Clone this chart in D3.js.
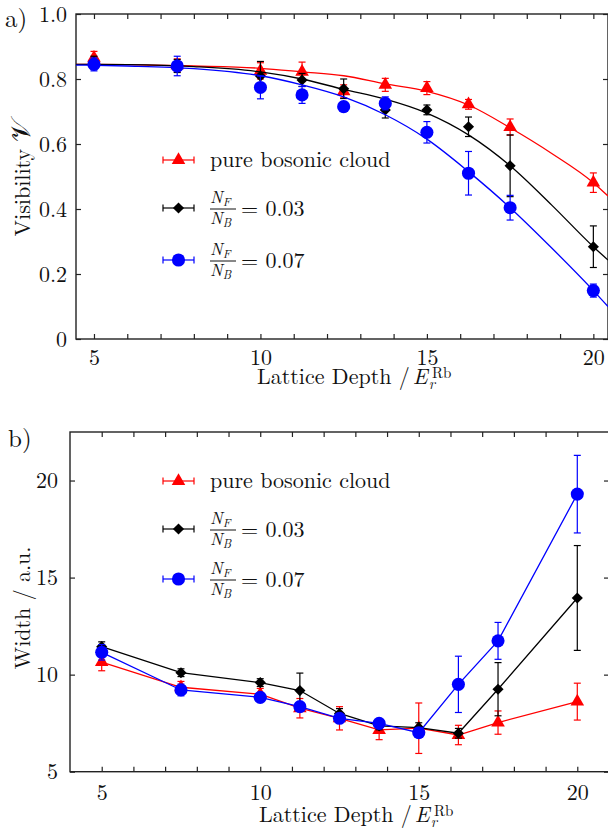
<!DOCTYPE html>
<html>
<head>
<meta charset="utf-8">
<script src="https://cdn.jsdelivr.net/npm/d3@7"></script>
<style>
  body { margin: 0; background: #fff; }
</style>
</head>
<body>
<svg width="608" height="833"></svg>
<script>
// lattice depths (E_r^Rb)
var depth = [5, 7.5, 10, 11.25, 12.5, 13.75, 15, 16.25, 17.5, 20];

// panel a) visibility
var visBoson    = [0.865, 0.842, 0.825, 0.822, 0.762, 0.782, 0.772, 0.722, 0.652, 0.481];
var visBosonErr = [0.02, 0.02, 0.025, 0.03, 0.02, 0.02, 0.02, 0.015, 0.025, 0.03];
var visF03      = [0.85, 0.84, 0.809, 0.797, 0.77, 0.705, 0.705, 0.653, 0.533, 0.284];
var visF03Err   = [0.02, 0.02, 0.045, 0.02, 0.03, 0.025, 0.015, 0.03, 0.095, 0.064];
var visF07      = [0.845, 0.84, 0.774, 0.751, 0.715, 0.725, 0.636, 0.51, 0.404, 0.149];
var visF07Err   = [0.02, 0.03, 0.035, 0.026, 0.015, 0.02, 0.033, 0.067, 0.038, 0.02];

// fit curves
var fitDepth = [4.46, 6, 8, 10, 11.25, 12.5, 13.75, 15, 16.25, 17.5, 18.75, 20, 20.44];
var fitBoson = [0.845, 0.844, 0.84, 0.833, 0.822, 0.81, 0.785, 0.762, 0.72, 0.65, 0.571, 0.481, 0.44];
var fitF03   = [0.845, 0.844, 0.838, 0.822, 0.8, 0.768, 0.738, 0.695, 0.628, 0.533, 0.412, 0.284, 0.243];
var fitF07   = [0.843, 0.84, 0.832, 0.81, 0.782, 0.745, 0.69, 0.615, 0.515, 0.404, 0.28, 0.149, 0.10];

// panel b) width
var widthBoson    = [10.65, 9.35, 8.99, 8.27, 7.75, 7.15, 7.24, 6.89, 7.53, 8.61];
var widthBosonErr = [0.45, 0.3, 0.3, 0.5, 0.6, 0.5, 1.3, 0.5, 0.6, 0.95];
var widthF03      = [11.44, 10.1, 9.59, 9.18, 8.0, 7.36, 7.27, 6.98, 9.25, 13.95];
var widthF03Err   = [0.25, 0.2, 0.2, 0.9, 0.25, 0.2, 0.25, 0.25, 1.37, 2.7];
var widthF07      = [11.15, 9.21, 8.83, 8.35, 7.75, 7.49, 7.01, 9.5, 11.74, 19.3];
var widthF07Err   = [0.4, 0.3, 0.2, 0.2, 0.2, 0.2, 0.2, 1.45, 0.95, 2.0];

var visTicks = [0, 0.2, 0.4, 0.6, 0.8, 1.0];
var widthTicks = [5, 10, 15, 20];
var seriesNames = ["pure bosonic cloud", "0.03", "0.07"];

var FONT = "'Latin Modern Roman', 'Liberation Serif', serif";
var colors = ["#ff0000", "#000000", "#0000ff"];
var symbols = [d3.symbolTriangle, d3.symbolSquare, d3.symbolCircle];
var symSize = [80, 62, 135];
var symRot = [0, 45, 0];

var svg = d3.select("svg");

// text helper, font set through style so it sticks
function txt(sel, x, y, size) {
  return sel.append("text").attr("x", x).attr("y", y)
    .style("font-family", FONT).style("font-size", size + "px").attr("fill", "#111");
}

function panel(opt) {
  var x = d3.scaleLinear().domain(opt.xdom).range([opt.left, opt.right]);
  var y = d3.scaleLinear().domain(opt.ydom).range([opt.bottom, opt.top]);
  var g = svg.append("g");
  var minor = d3.range(5, 21);

  var fmtX = function(d) { return d % 5 === 0 ? d : ""; };
  g.append("g").attr("transform", "translate(0," + opt.bottom + ")")
    .call(d3.axisBottom(x).tickValues(minor).tickSizeInner(-5).tickSizeOuter(0).tickPadding(opt.xpad).tickFormat(fmtX));
  g.append("g").attr("transform", "translate(0," + opt.top + ")")
    .call(d3.axisTop(x).tickValues(minor).tickSizeInner(-5).tickSizeOuter(0).tickFormat(""));
  g.append("g").attr("transform", "translate(" + opt.left + ",0)")
    .call(d3.axisLeft(y).tickValues(opt.yticks).tickSizeInner(-5).tickSizeOuter(0).tickPadding(opt.ypad).tickFormat(opt.yfmt));
  g.append("g").attr("transform", "translate(" + opt.right + ",0)")
    .call(d3.axisRight(y).tickValues(opt.yticks).tickSizeInner(-5).tickSizeOuter(0).tickFormat(""));
  g.selectAll(".domain").remove();
  g.selectAll(".tick text").style("font-family", FONT).style("font-size", "22px").attr("fill", "#111");
  g.selectAll(".tick line").attr("stroke", "#222").attr("stroke-width", 1.2);

  g.append("rect")
    .attr("x", opt.left).attr("y", opt.top)
    .attr("width", opt.right - opt.left).attr("height", opt.bottom - opt.top)
    .attr("fill", "none").attr("stroke", "#222").attr("stroke-width", 1.4);

  var clipId = "clip" + opt.id;
  svg.append("clipPath").attr("id", clipId).append("rect")
    .attr("x", opt.left).attr("y", opt.top)
    .attr("width", opt.right - opt.left).attr("height", opt.bottom - opt.top);

  var plot = g.append("g").attr("clip-path", "url(#" + clipId + ")");

  opt.series.forEach(function(s, i) {
    var pts = depth.map(function(d, j) { return {x: d, y: s.vals[j], e: s.errs[j]}; });
    if (s.fit) {
      var fpts = fitDepth.map(function(d, j) { return [d, s.fit[j]]; });
      plot.append("path").datum(fpts)
        .attr("d", d3.line().x(function(d) { return x(d[0]); }).y(function(d) { return y(d[1]); }).curve(d3.curveMonotoneX))
        .attr("fill", "none").attr("stroke", colors[i]).attr("stroke-width", 1.3);
    } else {
      plot.append("path").datum(pts)
        .attr("d", d3.line().x(function(d) { return x(d.x); }).y(function(d) { return y(d.y); }))
        .attr("fill", "none").attr("stroke", colors[i]).attr("stroke-width", 1.3);
    }
    var eb = plot.append("g").attr("stroke", colors[i]).attr("stroke-width", 1.2);
    pts.forEach(function(p) {
      var cx = x(p.x), y0 = y(p.y - p.e), y1 = y(p.y + p.e);
      eb.append("line").attr("x1", cx).attr("x2", cx).attr("y1", y0).attr("y2", y1);
      eb.append("line").attr("x1", cx - 3.5).attr("x2", cx + 3.5).attr("y1", y0).attr("y2", y0);
      eb.append("line").attr("x1", cx - 3.5).attr("x2", cx + 3.5).attr("y1", y1).attr("y2", y1);
    });
    plot.append("g").selectAll("path").data(pts).enter().append("path")
      .attr("d", d3.symbol().type(symbols[i]).size(symSize[i]))
      .attr("transform", function(p) { return "translate(" + x(p.x) + "," + y(p.y) + ") rotate(" + symRot[i] + ")"; })
      .attr("fill", colors[i]);
  });

  // legend
  opt.legendY.forEach(function(ly, i) {
    var lg = g.append("g").attr("stroke", colors[i]).attr("stroke-width", 1.2);
    lg.append("line").attr("x1", 163).attr("x2", 194).attr("y1", ly).attr("y2", ly);
    lg.append("line").attr("x1", 163).attr("x2", 163).attr("y1", ly - 3.5).attr("y2", ly + 3.5);
    lg.append("line").attr("x1", 194).attr("x2", 194).attr("y1", ly - 3.5).attr("y2", ly + 3.5);
    g.append("path")
      .attr("d", d3.symbol().type(symbols[i]).size(symSize[i]))
      .attr("transform", "translate(178.5," + ly + ") rotate(" + symRot[i] + ")")
      .attr("fill", colors[i]);
    if (i === 0) {
      txt(g, 210, ly + 7, 22).text(seriesNames[i]);
    } else {
      var num = txt(g, 210, ly - 5, 17).style("font-style", "italic");
      num.append("tspan").text("N");
      num.append("tspan").attr("dy", 3).style("font-size", "12px").text("F");
      g.append("line").attr("x1", 210).attr("x2", 236).attr("y1", ly + 1).attr("y2", ly + 1)
        .attr("stroke", "#111").attr("stroke-width", 1);
      var den = txt(g, 210, ly + 16, 17).style("font-style", "italic");
      den.append("tspan").text("N");
      den.append("tspan").attr("dy", 3).style("font-size", "12px").text("B");
      txt(g, 241, ly + 8, 22).text("= " + seriesNames[i]);
    }
  });

  // x label, sub r and super Rb stacked
  var xl = txt(g, opt.xlabX, opt.xlabY, 22);
  xl.append("tspan").text("Lattice Depth /");
  xl.append("tspan").attr("dx", 3).style("font-style", "italic").text("E");
  xl.append("tspan").style("font-style", "italic").style("font-size", "15px").attr("dx", 1).attr("dy", 5).text("r");
  xl.append("tspan").style("font-size", "15px").attr("dx", -3).attr("dy", -11).text("Rb");

  // y label
  var yl = txt(g, 0, 0, 22).attr("transform", "translate(" + opt.ylabX + "," + opt.ylabY + ") rotate(-90)")
    .attr("text-anchor", "middle");
  opt.ylab(yl);

  txt(g, opt.tagX, opt.tagY, 25).text(opt.tag);
}

panel({
  id: "a", tag: "a)", tagX: 5, tagY: 27,
  left: 76, right: 608, top: 14, bottom: 339,
  xdom: [4.46, 20.44], ydom: [0, 1],
  yticks: visTicks, yfmt: function(d) { return d === 0 ? "0" : d.toFixed(1); },
  xpad: 10, ypad: 9,
  series: [
    {vals: visBoson, errs: visBosonErr, fit: fitBoson},
    {vals: visF03, errs: visF03Err, fit: fitF03},
    {vals: visF07, errs: visF07Err, fit: fitF07}
  ],
  legendY: [160, 208, 260],
  xlabX: 257, xlabY: 384,
  ylabX: 30, ylabY: 178,
  ylab: function(t) {
    t.append("tspan").text("Visibility ");
    t.append("tspan").style("font-size", "27px").text("\uD835\uDCB1");
  }
});

panel({
  id: "b", tag: "b)", tagX: 8, tagY: 447,
  left: 70, right: 609, top: 432, bottom: 771.7,
  xdom: [4, 21], ydom: [5, 22.5],
  yticks: widthTicks, yfmt: function(d) { return d; },
  xpad: 13, ypad: 12,
  series: [
    {vals: widthBoson, errs: widthBosonErr},
    {vals: widthF03, errs: widthF03Err},
    {vals: widthF07, errs: widthF07Err}
  ],
  legendY: [481, 529, 579],
  xlabX: 259, xlabY: 822,
  ylabX: 30, ylabY: 608,
  ylab: function(t) { t.text("Width / a.u."); }
});
</script>
</body>
</html>
